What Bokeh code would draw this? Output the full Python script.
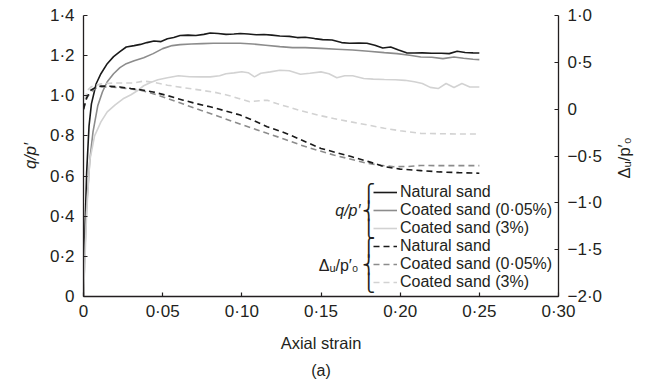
import math
from bokeh.plotting import figure
from bokeh.layouts import row
from bokeh.models import Range1d, LinearAxis, FixedTicker, Legend, LegendItem, Label, Title
from bokeh.embed import file_html
from bokeh.resources import INLINE

# ---------------- data ----------------
x_ticks = [0, 0.05, 0.10, 0.15, 0.20, 0.25, 0.30]
x_tick_labels = ["0", "0·05", "0·10", "0·15", "0·20", "0·25", "0·30"]
q_ticks = [0, 0.2, 0.4, 0.6, 0.8, 1.0, 1.2, 1.4]
q_tick_labels = ["0", "0·2", "0·4", "0·6", "0·8", "1·0", "1·2", "1·4"]
du_ticks = [-2.0, -1.5, -1.0, -0.5, 0, 0.5, 1.0]
du_tick_labels = ["−2·0", "−1·5", "−1·0", "−0·5", "0", "0·5", "1·0"]

# q/p' - natural sand
qn_x = [0, 0.001, 0.002, 0.0035, 0.005, 0.008, 0.011, 0.015, 0.019, 0.023, 0.027, 0.032, 0.036,
        0.040, 0.0445, 0.049, 0.053, 0.057, 0.061, 0.066, 0.071, 0.076, 0.080, 0.085, 0.090, 0.095,
        0.099, 0.104, 0.109, 0.114, 0.119, 0.124, 0.130, 0.135, 0.140, 0.146, 0.151, 0.157, 0.163,
        0.168, 0.174, 0.179, 0.184, 0.189, 0.194, 0.199, 0.204, 0.209, 0.214, 0.220, 0.226, 0.231,
        0.236, 0.241, 0.246, 0.250]
qn_y = [0, 0.35, 0.62, 0.85, 0.96, 1.06, 1.11, 1.16, 1.195, 1.22, 1.243, 1.25, 1.256,
        1.265, 1.273, 1.27, 1.284, 1.29, 1.30, 1.302, 1.300, 1.306, 1.313, 1.310, 1.306, 1.308,
        1.31, 1.308, 1.304, 1.305, 1.302, 1.298, 1.296, 1.29, 1.292, 1.285, 1.28, 1.278, 1.265,
        1.262, 1.263, 1.262, 1.252, 1.238, 1.243, 1.228, 1.214, 1.213, 1.214, 1.212, 1.212, 1.210,
        1.222, 1.216, 1.214, 1.213]

# q/p' - coated sand 0.05%
qc1_x = [0, 0.001, 0.002, 0.004, 0.006, 0.009, 0.012, 0.015, 0.019, 0.023, 0.027, 0.032, 0.038,
         0.044, 0.050, 0.056, 0.061, 0.068, 0.075, 0.082, 0.090, 0.099, 0.107, 0.115, 0.124, 0.132,
         0.140, 0.150, 0.160, 0.170, 0.180, 0.190, 0.198, 0.206, 0.213, 0.220, 0.227, 0.234, 0.240,
         0.246, 0.250]
qc1_y = [0, 0.25, 0.45, 0.68, 0.82, 0.95, 1.02, 1.07, 1.11, 1.14, 1.16, 1.175, 1.19,
         1.21, 1.235, 1.25, 1.255, 1.258, 1.26, 1.262, 1.262, 1.262, 1.258, 1.252, 1.245, 1.24,
         1.24, 1.236, 1.232, 1.228, 1.222, 1.215, 1.21, 1.202, 1.193, 1.192, 1.185, 1.193, 1.187,
         1.182, 1.18]

# q/p' - coated sand 3%
qc3_x = [0, 0.001, 0.002, 0.004, 0.007, 0.011, 0.015, 0.020, 0.025, 0.030, 0.034, 0.038, 0.042,
         0.047, 0.053, 0.060, 0.067, 0.074, 0.080, 0.086, 0.090, 0.095, 0.100, 0.104, 0.108, 0.112,
         0.118, 0.124, 0.130, 0.137, 0.143, 0.150, 0.155, 0.160, 0.165, 0.170, 0.177, 0.183, 0.190,
         0.197, 0.203, 0.209, 0.214, 0.219, 0.224, 0.229, 0.234, 0.239, 0.244, 0.250]
qc3_y = [0, 0.2, 0.42, 0.68, 0.80, 0.87, 0.92, 0.955, 0.985, 1.005, 1.025, 1.05, 1.065,
         1.08, 1.09, 1.10, 1.095, 1.094, 1.094, 1.100, 1.11, 1.114, 1.12, 1.115, 1.094, 1.112,
         1.119, 1.127, 1.125, 1.107, 1.112, 1.119, 1.11, 1.09, 1.10, 1.10, 1.086, 1.083, 1.081,
         1.08, 1.077, 1.07, 1.061, 1.042, 1.036, 1.061, 1.041, 1.061, 1.044, 1.044]

# Δu/p'0 - natural sand
un_x = [0, 0.002, 0.0043, 0.008, 0.011, 0.017, 0.023, 0.030, 0.037, 0.044, 0.053, 0.063, 0.071,
        0.080, 0.090, 0.099, 0.108, 0.116, 0.125, 0.133, 0.141, 0.150, 0.160, 0.169, 0.180, 0.190,
        0.200, 0.213, 0.225, 0.237, 0.250]
un_y = [0, 0.12, 0.20, 0.235, 0.246, 0.245, 0.237, 0.22, 0.205, 0.184, 0.145, 0.096, 0.06,
        0.025, -0.02, -0.063, -0.125, -0.187, -0.24, -0.294, -0.355, -0.419, -0.465, -0.506,
        -0.56, -0.614, -0.64, -0.656, -0.67, -0.678, -0.684]

# Δu/p'0 - coated sand 0.05%
uc1_x = [0, 0.002, 0.005, 0.008, 0.011, 0.019, 0.028, 0.036, 0.044, 0.053, 0.063, 0.074, 0.085,
         0.095, 0.106, 0.116, 0.127, 0.137, 0.148, 0.158, 0.169, 0.179, 0.188, 0.196, 0.205, 0.213,
         0.225, 0.237, 0.250]
uc1_y = [0, 0.12, 0.19, 0.225, 0.237, 0.235, 0.22, 0.203, 0.165, 0.115, 0.055, -0.011, -0.075,
         -0.136, -0.2, -0.258, -0.32, -0.382, -0.44, -0.489, -0.535, -0.577, -0.60, -0.614,
         -0.612, -0.601, -0.603, -0.603, -0.603]

# Δu/p'0 - coated sand 3%
uc3_x = [0, 0.001, 0.0023, 0.005, 0.011, 0.020, 0.032, 0.038, 0.045, 0.053, 0.063, 0.074, 0.083,
         0.091, 0.098, 0.105, 0.111, 0.116, 0.122, 0.129, 0.138, 0.148, 0.158, 0.169, 0.180, 0.190,
         0.200, 0.213, 0.225, 0.237, 0.250]
uc3_y = [0, 0.1, 0.2, 0.24, 0.27, 0.28, 0.28, 0.30, 0.285, 0.256, 0.23, 0.203, 0.18,
         0.149, 0.115, 0.079, 0.09, 0.096, 0.06, 0.025, -0.02, -0.063, -0.1, -0.136, -0.17,
         -0.204, -0.23, -0.258, -0.262, -0.265, -0.266]

series_labels = ["Natural sand", "Coated sand (0·05%)", "Coated sand (3%)"]
group_labels = ["q/p′", "Δᵤ/p′₀"]
right_title = "Δᵤ/p′₀"
brace_pieces = ["⎧", "⎨", "⎩"]
colors = ["#1a1a1a", "#8c8c8c", "#d2d2d2"]

FONT = "Liberation Sans"
TXT = "#231f20"

p = figure(width=608, height=383, output_backend="svg", toolbar_location=None,
           x_range=Range1d(0, 0.30), y_range=Range1d(0, 1.4),
           min_border_left=83, min_border_right=50, min_border_top=15, min_border_bottom=86)
p.extra_y_ranges = {"du": Range1d(-2.0, 1.0)}
p.outline_line_color = None
p.xgrid.grid_line_color = None
p.ygrid.grid_line_color = None
p.background_fill_color = "white"
p.border_fill_color = "white"


def style_axis(ax, ticks, labels, title, italic=False):
    ax.ticker = FixedTicker(ticks=ticks)
    ax.major_label_overrides = {t: l for t, l in zip(ticks, labels)}
    ax.axis_line_color = TXT
    ax.axis_line_width = 1.3
    ax.major_tick_line_color = TXT
    ax.major_tick_line_width = 1.2
    ax.major_tick_in = 4
    ax.major_tick_out = 0
    ax.minor_tick_line_color = None
    ax.major_label_text_font = FONT
    ax.major_label_text_font_size = "17px"
    ax.major_label_text_color = TXT
    if title:
        ax.axis_label = title
    ax.axis_label_text_font = FONT
    ax.axis_label_text_font_size = "16.5px"
    ax.axis_label_text_color = TXT
    ax.axis_label_text_font_style = "italic" if italic else "normal"


style_axis(p.xaxis[0], x_ticks, x_tick_labels, "Axial strain")
p.xaxis[0].major_label_standoff = 5
p.xaxis[0].axis_label_standoff = 10
style_axis(p.yaxis[0], q_ticks, q_tick_labels, "q/p′", italic=True)
p.yaxis[0].major_label_standoff = 9
p.yaxis[0].axis_label_standoff = 8

rax = LinearAxis(y_range_name="du")
style_axis(rax, du_ticks, du_tick_labels, None)
rax.major_label_standoff = 9
p.add_layout(rax, "right")

sub = Title(text="(a)", align="center", text_font=FONT, text_font_size="16px",
            text_font_style="normal", text_color=TXT)
p.add_layout(sub, "below")

lw = 1.6
r_q = [
    p.line(qn_x, qn_y, line_color=colors[0], line_width=lw),
    p.line(qc1_x, qc1_y, line_color=colors[1], line_width=lw),
    p.line(qc3_x, qc3_y, line_color=colors[2], line_width=lw),
]
r_u = [
    p.line(uc3_x, uc3_y, line_color=colors[2], line_width=lw, line_dash="6 4", y_range_name="du"),
    p.line(uc1_x, uc1_y, line_color=colors[1], line_width=lw, line_dash="6 4", y_range_name="du"),
    p.line(un_x, un_y, line_color=colors[0], line_width=lw, line_dash="6 4", y_range_name="du"),
]
r_u = r_u[::-1]

items = [LegendItem(label=series_labels[i], renderers=[r_q[i]]) for i in range(3)] + \
        [LegendItem(label=series_labels[i], renderers=[r_u[i]]) for i in range(3)]
legend = Legend(items=items, location=(290, 5), padding=0, margin=0, spacing=0,
                glyph_width=24, glyph_height=14, label_height=14, label_standoff=3,
                label_text_font=FONT, label_text_font_size="16px", label_text_color=TXT,
                background_fill_alpha=0, border_line_alpha=0)
p.add_layout(legend)

# group labels with braces (screen offsets from the frame's lower-left corner)
row_y = [104, 86, 68, 50, 31.5, 13.5]
for g in range(2):
    mid = row_y[3 * g + 1]
    p.add_layout(Label(x=277 if g == 0 else 275, y=mid, x_units="screen", y_units="screen",
                       text=group_labels[g], text_align="right", text_baseline="middle",
                       text_font=FONT, text_font_size="16px", text_color=TXT,
                       text_font_style="italic" if g == 0 else "normal"))
    for k in range(3):
        p.add_layout(Label(x=285, y=row_y[3 * g + k], x_units="screen", y_units="screen",
                           text=brace_pieces[k], text_align="center", text_baseline="middle",
                           text_font="DejaVu Sans", text_font_size="17.5px", text_color=TXT))

# narrow side panel carrying the right-hand axis title (reads bottom-to-top)
side = figure(width=30, height=383, output_backend="svg", toolbar_location=None,
              x_range=Range1d(0, 1), y_range=Range1d(0, 1),
              x_axis_location=None, y_axis_location=None,
              min_border_left=0, min_border_right=0, min_border_top=15, min_border_bottom=86)
side.outline_line_color = None
side.xgrid.grid_line_color = None
side.ygrid.grid_line_color = None
side.border_fill_color = "white"
side.background_fill_color = "white"
side.add_layout(Label(x=0.5, y=0.493, text=right_title, angle=math.pi / 2,
                      text_align="center", text_baseline="middle", text_font=FONT,
                      text_font_size="16.5px", text_color=TXT))

layout = row(p, side, spacing=0)
open("out.html", "w").write(file_html(layout, INLINE))
